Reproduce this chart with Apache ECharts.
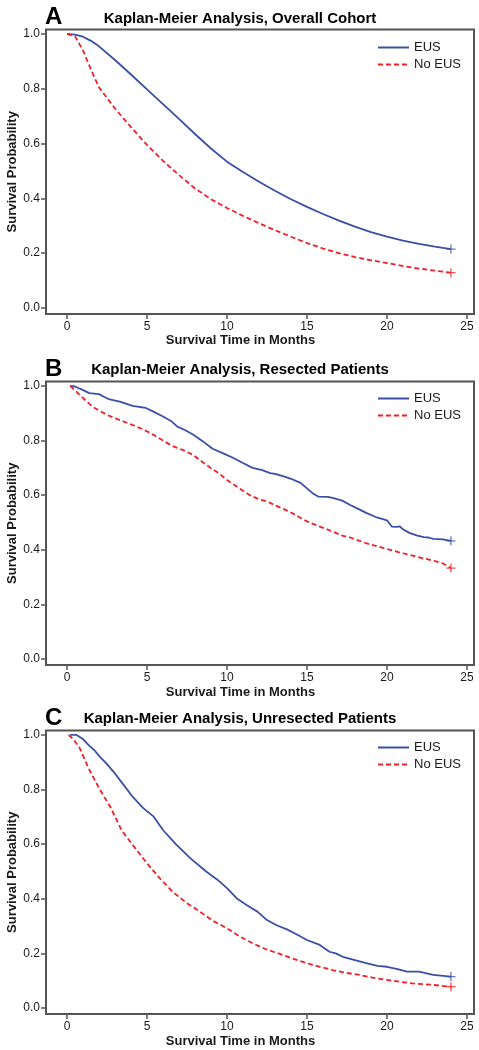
<!DOCTYPE html>
<html>
<head>
<meta charset="utf-8">
<script src="https://cdn.jsdelivr.net/npm/echarts@6/dist/echarts.min.js"></script>
<style>
html,body{margin:0;padding:0;background:#fff;}
#chart{width:479px;height:1050px;}
</style>
</head>
<body>
<div id="chart"></div>
<script>
// ---------- data ----------
const panelLetters = ['A', 'B', 'C'];
const panelTitles = [
  'Kaplan-Meier Analysis, Overall Cohort',
  'Kaplan-Meier Analysis, Resected Patients',
  'Kaplan-Meier Analysis, Unresected Patients'
];
const seriesNames = ['EUS', 'No EUS'];
const xTicks = [0, 5, 10, 15, 20, 25];
const yTicks = [0, 0.2, 0.4, 0.6, 0.8, 1.0];
const xTitle = 'Survival Time in Months';
const yTitle = 'Survival Probability';

// Panel A: overall cohort
const tA_eus = [0,0.5,1,1.5,2,3,4,5,6,7,8,9,10,11,12,13,14,15,16,17,18,19,20,21,22,23,24];
const sA_eus = [1.0,0.998,0.99,0.975,0.955,0.905,0.852,0.798,0.744,0.69,0.635,0.582,0.534,0.496,0.461,0.428,0.397,0.369,0.343,0.319,0.297,0.277,0.26,0.246,0.234,0.224,0.215];
const tA_no = [0,0.5,1,1.5,2,3,4,5,6,7,8,9,10,11,12,13,14,15,16,17,18,19,20,21,22,23,24];
const sA_no = [1.0,0.992,0.94,0.87,0.805,0.728,0.66,0.595,0.537,0.485,0.436,0.397,0.365,0.336,0.309,0.284,0.26,0.237,0.217,0.2,0.186,0.174,0.164,0.153,0.144,0.136,0.129];

// Panel B: resected patients
const tB_eus = [0.2,0.5,0.8,1.0,1.4,2.0,2.4,2.6,3.3,4.1,4.9,5.4,6.0,6.5,6.9,7.4,7.9,8.5,9.1,9.8,10.4,11.0,11.6,12.2,12.7,13.0,13.5,14.0,14.6,15.0,15.4,15.7,16.3,16.6,17.2,17.7,18.2,18.7,19.3,19.8,20.0,20.3,20.6,20.8,21.0,21.4,21.9,22.3,22.6,22.9,23.5,24.0];
const sB_eus = [1.0,0.998,0.99,0.985,0.974,0.97,0.958,0.952,0.943,0.927,0.92,0.906,0.888,0.872,0.851,0.838,0.821,0.797,0.77,0.752,0.736,0.718,0.7,0.692,0.681,0.678,0.67,0.66,0.645,0.625,0.605,0.595,0.594,0.59,0.58,0.564,0.55,0.535,0.52,0.511,0.508,0.485,0.484,0.486,0.475,0.462,0.452,0.446,0.445,0.44,0.438,0.433];
const tB_no = [0.2,0.8,1.2,1.6,2.0,2.5,3.3,4.1,4.8,5.4,6.0,6.6,7.3,7.9,8.5,8.9,9.5,10.0,10.7,11.4,12.0,12.5,13.2,13.9,14.5,15.0,15.8,16.6,17.2,17.7,18.7,19.8,20.8,21.9,22.9,23.5,24.0];
const sB_no = [1.0,0.967,0.945,0.924,0.91,0.894,0.875,0.857,0.84,0.821,0.8,0.78,0.764,0.747,0.72,0.703,0.68,0.656,0.628,0.601,0.585,0.577,0.558,0.54,0.52,0.504,0.485,0.467,0.452,0.445,0.424,0.406,0.39,0.374,0.36,0.35,0.333];

// Panel C: unresected patients
const tC_eus = [0.2,0.6,1.0,1.4,1.7,2.06,2.5,2.9,3.5,4.1,4.75,5.4,6.0,6.8,7.7,8.7,9.4,10.0,10.6,11.2,11.9,12.5,13.1,13.75,14.4,15.0,15.8,16.4,16.8,17.3,18.0,18.7,19.4,20.0,20.6,21.25,22.0,22.9,24.0];
const sC_eus = [1.0,1.0,0.985,0.96,0.945,0.92,0.893,0.866,0.82,0.774,0.733,0.702,0.652,0.6,0.549,0.5,0.47,0.439,0.402,0.378,0.353,0.322,0.303,0.288,0.268,0.249,0.231,0.206,0.2,0.186,0.175,0.164,0.154,0.151,0.143,0.133,0.133,0.121,0.115];
const tC_no = [0.1,0.4,0.8,1.4,2.06,2.7,3.4,4.2,5.0,5.8,6.6,7.4,8.3,9.1,10.0,10.8,11.6,12.4,13.3,14.1,15.0,15.8,16.6,17.4,18.3,19.1,20.0,20.8,21.6,22.8,24.0];
const sC_no = [1.0,0.985,0.951,0.872,0.799,0.738,0.652,0.59,0.53,0.475,0.426,0.388,0.353,0.32,0.292,0.262,0.237,0.216,0.198,0.181,0.164,0.151,0.139,0.129,0.121,0.111,0.103,0.096,0.09,0.085,0.078];

// ---------- layout / style ----------
const BLUE = '#3a4fa6';
const RED = '#f0202a';
const AXIS = '#555555';
const TEXT = '#1a1a1a';
const FONT = '"Liberation Sans", Arial, sans-serif';

const panelData = [
  [[tA_eus, sA_eus], [tA_no, sA_no]],
  [[tB_eus, sB_eus], [tB_no, sB_no]],
  [[tC_eus, sC_eus], [tC_no, sC_no]]
];
const gridTops = [29.6, 381.6, 730.6];
const gridHeights = [284.4, 283.4, 283.4];
const letterY = [17, 369, 718];
const titleY = [19, 370, 719];
const xNameY = [340.5, 692.5, 1041];
const legendTops = [41, 392, 741];

const pairs = (t, s) => t.map((x, i) => [x, s[i]]);
const plusPath = 'path://M4.3,0H5.7V10H4.3Z M0,4.3H10V5.7H0Z';

const grids = [], xAxes = [], yAxes = [], series = [], legends = [], graphics = [];

for (let p = 0; p < 3; p++) {
  grids.push({
    left: 46, width: 428, top: gridTops[p], height: gridHeights[p],
    outerBoundsMode: 'none', containLabel: false,
    show: true, borderColor: AXIS, borderWidth: 2, backgroundColor: 'transparent'
  });
  xAxes.push({
    type: 'value', gridIndex: p, min: -1.3125, max: 25.44,
    axisLine: { show: false, onZero: false },
    axisTick: { show: true, length: 5, customValues: xTicks, lineStyle: { color: AXIS, width: 1.5 } },
    axisLabel: { customValues: xTicks, margin: 7, fontSize: 12, color: TEXT, fontFamily: FONT },
    splitLine: { show: false }
  });
  yAxes.push({
    type: 'value', gridIndex: p, min: -0.022, max: 1.016,
    axisLine: { show: false, onZero: false },
    axisTick: { show: true, length: 5, customValues: yTicks, lineStyle: { color: AXIS, width: 1.5 } },
    axisLabel: { customValues: yTicks, margin: 6, fontSize: 12, color: TEXT, fontFamily: FONT,
      formatter: v => v.toFixed(1) },
    splitLine: { show: false },
    name: yTitle, nameLocation: 'middle', nameRotate: 90, nameGap: 27, nameMoveOverlap: false,
    nameTextStyle: { fontSize: 13, fontWeight: 'bold', color: TEXT, fontFamily: FONT }
  });
  const colors = [BLUE, RED];
  const types = ['solid', [5, 3]];
  for (let k = 0; k < 2; k++) {
    const [t, s] = panelData[p][k];
    series.push({
      type: 'line', name: seriesNames[k], xAxisIndex: p, yAxisIndex: p,
      data: pairs(t, s), symbol: 'none', smooth: false,
      lineStyle: { color: colors[k], width: 1.8, type: types[k] },
      itemStyle: { color: colors[k] }, z: 3
    });
    series.push({
      type: 'scatter', name: seriesNames[k] + ' censor', xAxisIndex: p, yAxisIndex: p,
      data: [[t[t.length - 1], s[s.length - 1]]],
      symbol: plusPath, symbolSize: 9, itemStyle: { color: colors[k] }, z: 4
    });
  }
  legends.push({
    data: seriesNames, orient: 'vertical', left: 377, top: legendTops[p],
    padding: 0, itemWidth: 31, itemHeight: 14, itemGap: 4,
    itemStyle: { opacity: 0 },
    textStyle: { fontSize: 13, color: TEXT, fontFamily: FONT },
    selectedMode: false
  });
  graphics.push({
    type: 'text', x: 45, y: letterY[p],
    style: { text: panelLetters[p], font: 'bold 24px ' + FONT, fill: '#000',
      textAlign: 'left', textVerticalAlign: 'middle' }
  });
  graphics.push({
    type: 'text', x: 240, y: titleY[p],
    style: { text: panelTitles[p], font: 'bold 15px ' + FONT, fill: '#000',
      textAlign: 'center', textVerticalAlign: 'middle' }
  });
  graphics.push({
    type: 'text', x: 240.5, y: xNameY[p],
    style: { text: xTitle, font: 'bold 13px ' + FONT, fill: TEXT,
      textAlign: 'center', textVerticalAlign: 'middle' }
  });
}

const chart = echarts.init(document.getElementById('chart'), null, { renderer: 'canvas' });
chart.setOption({
  animation: false,
  backgroundColor: '#ffffff',
  grid: grids, xAxis: xAxes, yAxis: yAxes,
  legend: legends, series: series, graphic: graphics
});
</script>
</body>
</html>
